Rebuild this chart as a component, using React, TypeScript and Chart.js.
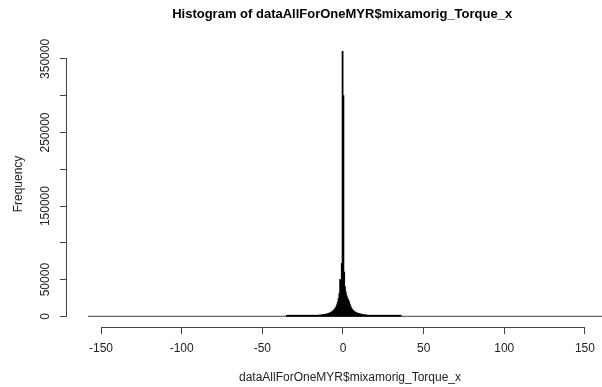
import React, { useEffect, useRef } from 'react';
import { Chart, registerables } from 'chart.js';

Chart.register(...registerables);

const TITLE = 'Histogram of dataAllForOneMYR$mixamorig_Torque_x';
const X_TITLE = 'dataAllForOneMYR$mixamorig_Torque_x';
const Y_TITLE = 'Frequency';

// Histogram bins (width 0.5) of the non-empty region, left edge of first bin = -35
const BIN_WIDTH = 0.5;
const FIRST_EDGE = -35;
const COUNTS = [
  // -35 .. -20.5
  280, 290, 300, 310, 320, 330, 340, 355, 370, 380,
  395, 410, 425, 440, 455, 470, 490, 510, 530, 550,
  575, 600, 625, 650, 680, 710, 740, 770, 800, 830,
  // -20 .. -1.0
  860, 900, 940, 990, 1040, 1100, 1160, 1230, 1300, 1380,
  1470, 1570, 1680, 1800, 1940, 2100, 2280, 2480, 2700, 2950,
  3250, 3600, 4000, 4450, 5000, 5600, 6300, 7100, 8100, 9300,
  10800, 12800, 15500, 19000, 24000, 31000, 50000, 1800, 72000,
  // -0.5, 0
  360000, 300000,
  // 0.5 .. 35.5
  60000, 40000, 33000, 28000, 25000, 22500, 20000, 16500, 13500, 11000,
  9200, 7900, 6900, 6100, 5500, 5000, 4500, 4100, 3700, 3350,
  3050, 2780, 2540, 2330, 2140, 1970, 1820, 1690, 1570, 1460,
  1360, 1270, 1190, 1120, 1060, 1000, 950, 900, 860, 820,
  785, 750, 720, 690, 660, 635, 610, 585, 565, 545,
  525, 505, 490, 475, 460, 445, 430, 415, 400, 390,
  380, 370, 360, 350, 340, 330, 320, 310, 300, 290,
  280,
];

// full extent of the histogram breaks (empty bins drawn as a flat line)
const BREAKS_MIN = -158.1;
const BREAKS_MAX = 166.8;

const X_TICKS = [-150, -100, -50, 0, 50, 100, 150];
const Y_TICKS = [0, 50000, 100000, 150000, 200000, 250000, 300000, 350000];
const Y_LABELS = ['0', '50000', '', '150000', '', '250000', '', '350000'];

const X_MIN = -171.1;
const X_MAX = 179.8;
const Y_MIN = -14400;
const Y_MAX = 374400;

const FONT = '"Liberation Sans", Arial, sans-serif';
const TEXT = '#222';
const AXIS = '#444';

const rStyle = {
  id: 'rStyle',
  afterDraw(chart: any) {
    const { ctx, chartArea, scales } = chart;
    const x = scales.x;
    const y = scales.y;
    ctx.save();
    ctx.strokeStyle = AXIS;
    ctx.lineWidth = 1;
    const yb = Math.round(chartArea.bottom) + 0.5;
    ctx.beginPath();
    ctx.moveTo(x.getPixelForValue(X_TICKS[0]), yb);
    ctx.lineTo(x.getPixelForValue(X_TICKS[X_TICKS.length - 1]), yb);
    ctx.stroke();
    const xl = Math.round(chartArea.left) - 0.5;
    ctx.beginPath();
    ctx.moveTo(xl, y.getPixelForValue(Y_TICKS[0]));
    ctx.lineTo(xl, y.getPixelForValue(Y_TICKS[Y_TICKS.length - 1]));
    ctx.stroke();

    ctx.fillStyle = TEXT;
    ctx.font = '12px ' + FONT;
    ctx.textAlign = 'center';
    ctx.textBaseline = 'middle';
    Y_TICKS.forEach((v, i) => {
      if (!Y_LABELS[i]) return;
      ctx.save();
      ctx.translate(46, y.getPixelForValue(v));
      ctx.rotate(-Math.PI / 2);
      ctx.fillText(Y_LABELS[i], 0, 0);
      ctx.restore();
    });

    ctx.fillStyle = '#000';
    ctx.font = 'bold 13px ' + FONT;
    ctx.fillText(TITLE, x.getPixelForValue(-0.5), 14);
    ctx.restore();
  },
};

export default function App() {
  const ref = useRef<HTMLCanvasElement | null>(null);
  useEffect(() => {
    if (!ref.current) return;
    const bars = COUNTS.map((c, i) => ({ x: FIRST_EDGE + (i + 0.5) * BIN_WIDTH, y: c }));
    const chart = new Chart(ref.current, {
      type: 'bar',
      data: {
        datasets: [
          {
            type: 'bar',
            data: bars,
            backgroundColor: '#000',
            borderWidth: 0,
            barPercentage: 1,
            categoryPercentage: 1,
            inflateAmount: 0.5,
            minBarLength: 1,
            order: 0,
          } as any,
          {
            type: 'line',
            data: [
              { x: BREAKS_MIN, y: 0 },
              { x: BREAKS_MAX, y: 0 },
            ],
            borderColor: '#666',
            borderWidth: 1.2,
            pointRadius: 0,
            order: 1,
          } as any,
        ],
      },
      options: {
        responsive: false,
        animation: false,
        devicePixelRatio: 1,
        layout: { padding: { top: 41, left: 0, right: 0, bottom: 0 } },
        plugins: { legend: { display: false }, tooltip: { enabled: false }, title: { display: false } },
        scales: {
          x: {
            type: 'linear',
            min: X_MIN,
            max: X_MAX,
            offset: false,
            afterBuildTicks: (s: any) => {
              s.ticks = X_TICKS.map((v) => ({ value: v }));
            },
            afterFit: (s: any) => {
              s.height = 60;
            },
            border: { display: false },
            grid: { drawOnChartArea: false, drawTicks: true, tickLength: 7, color: AXIS, offset: false },
            ticks: {
              autoSkip: false,
              maxRotation: 0,
              minRotation: 0,
              padding: 7,
              color: TEXT,
              font: { family: FONT, size: 12 },
              callback: (v: any) => String(v),
            },
            title: {
              display: true,
              text: X_TITLE,
              color: TEXT,
              font: { family: FONT, size: 12 },
              padding: { top: 0, bottom: 2 },
            },
          },
          y: {
            type: 'linear',
            min: Y_MIN,
            max: Y_MAX,
            afterBuildTicks: (s: any) => {
              s.ticks = Y_TICKS.map((v) => ({ value: v }));
            },
            afterFit: (s: any) => {
              s.width = 67;
            },
            border: { display: false },
            grid: { drawOnChartArea: false, drawTicks: true, tickLength: 7, color: AXIS },
            ticks: { display: false },
            title: {
              display: true,
              text: Y_TITLE,
              color: TEXT,
              font: { family: FONT, size: 12 },
              padding: { top: 11, bottom: 0 },
            },
          },
        },
      },
      plugins: [rStyle],
    } as any);
    return () => chart.destroy();
  }, []);
  return (
    <div style={{ position: 'fixed', left: 0, top: 0, width: 602, height: 387, overflow: 'hidden', background: '#fff' }}>
      <canvas ref={ref} width={633} height={387} style={{ display: 'block' }} />
    </div>
  );
}
